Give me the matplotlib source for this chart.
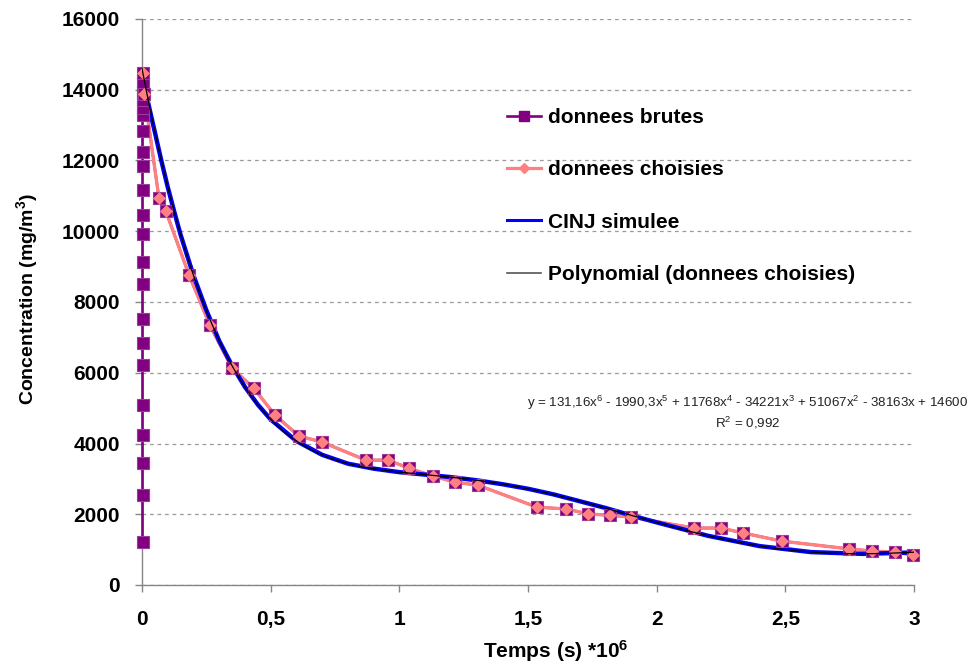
import numpy as np
import matplotlib
matplotlib.use("Agg")
import matplotlib.pyplot as plt
from matplotlib.lines import Line2D

plt.rcParams['font.family'] = ['Liberation Sans', 'DejaVu Sans']

# ---- data ----
raw0_x = [0.002] * 21
raw0_y = [1220, 2540, 3440, 4240, 5090, 6210, 6840, 7530, 8500, 9130, 9930,
          10470, 11160, 11840, 12230, 12830, 13280, 13480, 13700, 13950, 14200]

chosen_x = [0.005, 0.009, 0.066, 0.093, 0.183, 0.264, 0.35, 0.435, 0.517, 0.61,
            0.70, 0.87, 0.956, 1.038, 1.131, 1.216, 1.306, 1.535, 1.648, 1.733,
            1.819, 1.90, 2.145, 2.25, 2.336, 2.487, 2.748, 2.837, 2.926, 2.996]
chosen_y = [14460, 13880, 10930, 10560, 8760, 7340, 6130, 5560, 4800, 4210,
            4040, 3530, 3530, 3300, 3080, 2910, 2820, 2200, 2150, 2010,
            1970, 1920, 1610, 1610, 1470, 1240, 1020, 960, 930, 850]

cinj_x = [0.02, 0.05, 0.075, 0.1, 0.125, 0.15, 0.2, 0.25, 0.3, 0.35, 0.4, 0.45,
          0.5, 0.6, 0.7, 0.8, 0.9, 1.0, 1.1, 1.2, 1.3, 1.4, 1.5, 1.6, 1.7,
          1.8, 1.9, 2.0, 2.2, 2.4, 2.6, 2.8, 3.0]
cinj_y = [13750, 12800, 12000, 11250, 10560, 9900, 8750, 7770, 6900, 6200, 5600, 5100,
          4680, 4070, 3680, 3430, 3290, 3190, 3120, 3050, 2960, 2850, 2720, 2560, 2370,
          2180, 1970, 1770, 1390, 1100, 930, 880, 920]

# trendline coefficients as printed on the chart (x^6 ... x^0)
poly_coef = [131.16, -1990.3, 11768, -34221, 51067, -38163, 14600]

xticks = [0, 0.5, 1, 1.5, 2, 2.5, 3]
xtick_labels = ['0', '0,5', '1', '1,5', '2', '2,5', '3']
yticks = [0, 2000, 4000, 6000, 8000, 10000, 12000, 14000, 16000]

equation = (r'y = 131,16x$\mathregular{^6}$ - 1990,3x$\mathregular{^5}$ + 11768x$\mathregular{^4}$'
            r' - 34221x$\mathregular{^3}$ + 51067x$\mathregular{^2}$ - 38163x + 14600')
r2_text = r'R$\mathregular{^2}$ = 0,992'

labels = ['donnees brutes', 'donnees choisies', 'CINJ simulee',
          'Polynomial (donnees choisies)']

# ---- figure ----
W, H = 971, 668
fig = plt.figure(figsize=(W / 100, H / 100), dpi=100)
ax = fig.add_axes([142 / W, 1 - 585 / H, 772 / W, 566 / H])

PURPLE = '#800080'
PINK = '#FF8080'
BLUE = '#0000FF'

raw_x = raw0_x + chosen_x
raw_y = raw0_y + chosen_y

# lines
ax.plot(raw_x, raw_y, color=PURPLE, lw=1.9, zorder=2, solid_joinstyle='round',
        clip_on=False)
ax.plot(chosen_x, chosen_y, color=PINK, lw=2.4, zorder=3)
ax.plot(cinj_x, cinj_y, color=BLUE, lw=3.2, zorder=4, solid_capstyle='butt')
# markers
ax.plot(raw_x, raw_y, ls='none', marker='s', ms=8, mfc=PURPLE, mec='#9A3A9A',
        mew=0.8, zorder=5, clip_on=False)
ax.plot(chosen_x, chosen_y, ls='none', marker='D', ms=6.5, mfc=PINK, mec=PINK,
        mew=0.5, zorder=6, clip_on=False)
# polynomial trendline
tx = np.linspace(0, 3, 400)
ax.plot(tx, np.polyval(poly_coef, tx), color='black', lw=0.9, zorder=7)

ax.set_xlim(0, 3)
ax.set_ylim(0, 16000)

for s in ['top', 'right']:
    ax.spines[s].set_visible(False)
for s in ['left', 'bottom']:
    ax.spines[s].set_color('#868686')
    ax.spines[s].set_linewidth(1.0)
    ax.spines[s].set_zorder(1)

ax.set_xticks(xticks)
ax.set_xticklabels(xtick_labels)
ax.set_yticks(yticks)
ax.set_yticklabels([str(v) for v in yticks])
ax.tick_params(axis='both', direction='out', length=5, width=1, color='#868686',
               labelsize=15)
ax.tick_params(axis='x', pad=13)
ax.tick_params(axis='y', pad=11)
for lab in ax.get_xticklabels() + ax.get_yticklabels():
    lab.set_fontweight('bold')

ax.yaxis.grid(True, color='#9A9A9A', ls=(0, (3, 3)), lw=0.9)
ax.set_axisbelow(True)

# axis titles
fig.text(556 / W, 1 - 651 / H, r'Temps (s) *10$\mathregular{^6}$', ha='center',
         va='center', fontsize=15, fontweight='bold')
fig.text(27 / W, 1 - 299 / H, r'Concentration (mg/m$\mathregular{^3}$)', ha='center',
         va='center', rotation=90, fontsize=14, fontweight='bold')

# trendline equation
fig.text(748 / W, 1 - 403 / H, equation, ha='center', va='center', fontsize=9.6,
         color='#222222')
fig.text(748 / W, 1 - 423 / H, r2_text, ha='center', va='center', fontsize=9.6,
         color='#222222')

# legend
handles = [
    Line2D([], [], color=PURPLE, lw=1.9, marker='s', ms=7, mfc=PURPLE, mec=PURPLE),
    Line2D([], [], color=PINK, lw=2.3, marker='D', ms=5, mfc=PINK, mec=PINK),
    Line2D([], [], color=BLUE, lw=2.2),
    Line2D([], [], color='#555555', lw=1.2),
]
leg = fig.legend(handles, labels, loc='upper left',
                 bbox_to_anchor=(507 / W, 1 - 108 / H), frameon=False,
                 prop={'size': 15, 'weight': 'bold'}, handlelength=1.65,
                 handletextpad=0.3, labelspacing=1.6, borderpad=0,
                 borderaxespad=0)

fig.savefig('out.png', dpi=100)
